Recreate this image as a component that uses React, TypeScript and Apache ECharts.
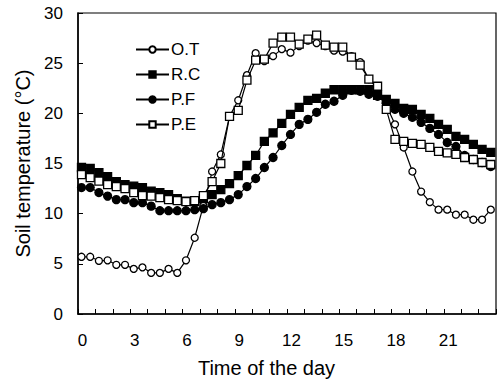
import React, { useEffect, useRef } from "react";
import * as echarts from "echarts";

const hours = [
  0.2, 0.7, 1.2, 1.7, 2.2, 2.7, 3.2, 3.7, 4.2, 4.7, 5.2, 5.7,
  6.2, 6.7, 7.2, 7.7, 8.2, 8.7, 9.2, 9.7, 10.2, 10.7, 11.2, 11.7,
  12.2, 12.7, 13.2, 13.7, 14.2, 14.7, 15.2, 15.7, 16.2, 16.7, 17.2, 17.7,
  18.2, 18.7, 19.2, 19.7, 20.2, 20.7, 21.2, 21.7, 22.2, 22.7, 23.2, 23.7,
];

const OT = [
  5.7, 5.7, 5.3, 5.35, 4.9, 4.9, 4.5, 4.65, 4.1, 4.1, 4.5, 4.1,
  5.35, 7.6, 10.8, 14.2, 15.9, 19.7, 21.3, 23.8, 26.0, 25.2, 25.7, 26.4,
  26.05, 26.7, 27.25, 27.0, 26.7, 26.25, 26.15, 25.7, 25.1, 23.4, 22.5, 20.8,
  18.9, 16.6, 14.2, 12.2, 11.15, 10.4, 10.4, 9.9, 9.9, 9.4, 9.4, 10.4,
];
const RC = [
  14.6, 14.5, 14.1, 13.7, 13.2, 12.9, 12.75, 12.6, 12.25, 12.1, 11.9, 11.5,
  11.25, 11.2, 11.5, 11.9, 12.4, 13.0, 13.8, 14.8, 15.8, 17.2, 18.05, 19.0,
  19.9, 20.6, 21.3, 21.5, 22.0, 22.35, 22.35, 22.35, 22.35, 22.35, 21.8, 21.4,
  21.0, 20.5, 20.4, 19.9, 19.5, 18.9, 18.4, 17.7, 17.4, 16.9, 16.4, 16.1,
];
const PF = [
  12.6, 12.6, 12.1, 11.75, 11.4, 11.4, 11.1, 11.1, 10.75, 10.3, 10.3, 10.3,
  10.3, 10.4, 10.5, 10.9, 11.1, 11.4, 11.9, 12.7, 13.5, 14.6, 15.6, 16.8,
  17.9, 18.9, 19.4, 20.1, 20.9, 21.2, 21.8, 22.3, 22.2, 21.9, 21.7, 21.0,
  20.4, 20.0, 19.6, 19.1, 18.5, 17.9, 17.1, 16.7, 15.8, 15.4, 15.1, 14.7,
];
const PE = [
  13.9, 13.6, 13.25, 12.9, 12.7, 12.5, 12.1, 11.8, 11.75, 11.6, 11.4, 11.3,
  11.2, 11.3, 11.8, 13.2, 15.0, 19.7, 20.3, 23.3, 25.3, 25.4, 27.0, 27.6,
  27.6, 26.9, 27.4, 27.8, 26.8, 26.6, 26.6, 25.6, 24.8, 23.4, 22.7, 20.4,
  17.4, 17.2, 17.0, 16.9, 16.6, 16.2, 16.05, 15.9, 15.6, 15.4, 15.1, 14.9,
];

const seriesNames = ["O.T", "R.C", "P.F", "P.E"];
const xLabelHours = [0, 3, 6, 9, 12, 15, 18, 21];

const FONT = '"Liberation Sans", Arial, Helvetica, sans-serif';

export default function App() {
  const ref = useRef<HTMLDivElement>(null);
  useEffect(() => {
    if (!ref.current) return;
    const chart = echarts.init(ref.current, null, { renderer: "svg" });
    const pair = (arr: number[]) => hours.map((h, i) => [h, arr[i]]);
    const mk = (
      name: string,
      arr: number[],
      symbol: string,
      size: number,
      filled: boolean,
      z: number
    ) => ({
      name,
      type: "line",
      data: pair(arr),
      symbol,
      symbolSize: size,
      showAllSymbol: true,
      z,
      lineStyle: { color: "#000", width: 1.2 },
      itemStyle: {
        color: filled ? "#000" : "#fff",
        borderColor: "#000",
        borderWidth: 1.3,
      },
      emphasis: { disabled: true },
    });
    chart.setOption({
      animation: false,
      backgroundColor: "#fff",
      textStyle: { fontFamily: FONT },
      grid: {
        left: 78,
        right: 1,
        top: 13,
        bottom: 68,
        show: true,
        borderColor: "#000",
        borderWidth: 1.2,
      },
      legend: {
        orient: "vertical",
        left: 130,
        top: 36,
        itemWidth: 33,
        itemHeight: 8,
        itemGap: 8,
        data: seriesNames,
        textStyle: { fontSize: 17, color: "#000", fontFamily: FONT, padding: [0, 0, 0, -3] },
      },
      xAxis: {
        type: "value",
        min: 0,
        max: 24,
        interval: 1,
        name: "Time of the day",
        nameLocation: "middle",
        nameGap: 44,
        nameTextStyle: {
          fontSize: 20,
          color: "#000",
          fontFamily: FONT,
          padding: [0, 41, 0, 0],
        },
        axisLine: { show: true, lineStyle: { color: "#000", width: 1.5 } },
        axisTick: { show: true, inside: true, length: 5, lineStyle: { color: "#000" } },
        splitLine: { show: false },
        axisLabel: {
          fontSize: 17,
          color: "#000",
          margin: 18,
          fontFamily: FONT,
          padding: [0, 0, 0, 9],
          formatter: (v: number) => (xLabelHours.includes(v) ? String(v) : ""),
        },
      },
      yAxis: {
        type: "value",
        min: 0,
        max: 30,
        interval: 5,
        name: "Soil temperature (\u00B0C)",
        nameLocation: "middle",
        nameGap: 45,
        nameTextStyle: { fontSize: 20, color: "#000", fontFamily: FONT },
        axisLine: { show: true, lineStyle: { color: "#000", width: 1.5 } },
        axisTick: { show: true, inside: true, length: 5, lineStyle: { color: "#000" } },
        splitLine: { show: false },
        axisLabel: { fontSize: 17, color: "#000", margin: 15, fontFamily: FONT },
      },
      series: [
        mk("O.T", OT, "circle", 7, false, 2),
        mk("R.C", RC, "rect", 8, true, 3),
        mk("P.F", PF, "circle", 8, true, 4),
        mk("P.E", PE, "rect", 8, false, 5),
      ],
    });
    return () => chart.dispose();
  }, []);
  return <div ref={ref} style={{ width: 499, height: 383, position: "absolute", left: 0, top: 0 }} />;
}
